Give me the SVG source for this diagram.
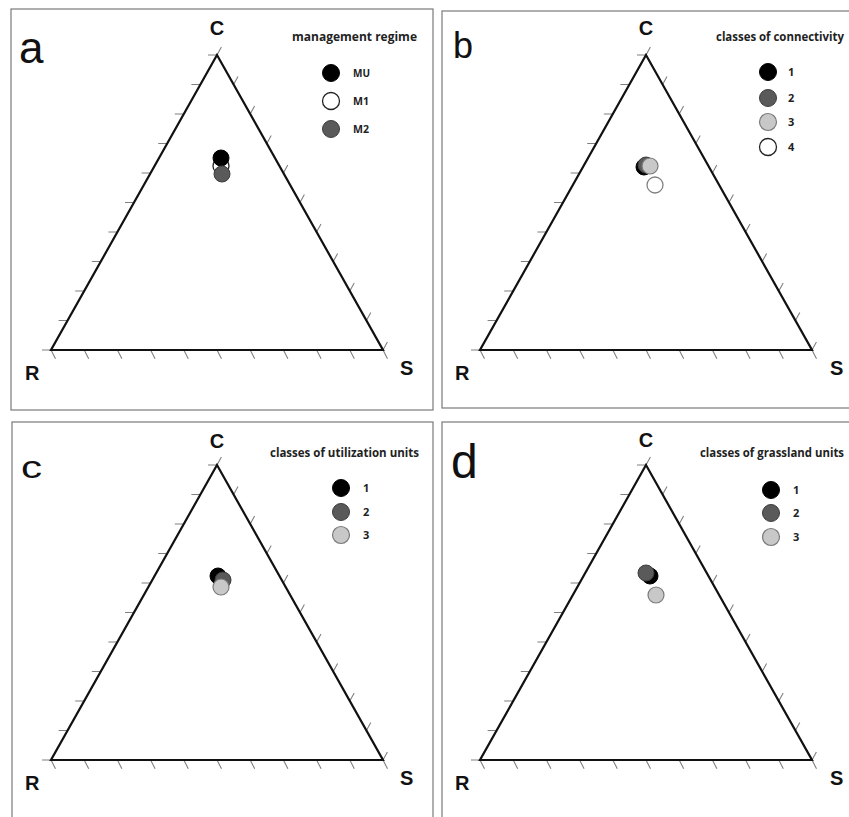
<svg xmlns="http://www.w3.org/2000/svg" xmlns:xlink="http://www.w3.org/1999/xlink" width="849" height="817" viewBox="0 0 849 817">
<style>
.frame{fill:none;stroke:#7a7a7a;stroke-width:1.2}
.tri{fill:none;stroke:#111;stroke-width:2.2;stroke-linejoin:miter}
.tick{fill:none;stroke:#808080;stroke-width:1.1}
.ax{font-family:"Liberation Sans",Arial,sans-serif;font-weight:bold;font-size:20px;fill:#111}
.pl{font-family:"Liberation Sans",Arial,sans-serif;font-weight:normal;fill:#111}
.lt{font-family:"Open Sans","Liberation Sans",sans-serif;font-weight:bold;font-size:12px;fill:#222}
.ll{font-family:"Open Sans","Liberation Sans",sans-serif;font-weight:bold;font-size:11px;fill:#222}
.k{fill:#000;stroke:#000;stroke-width:1}
.dg{fill:#5a5a5a;stroke:#3c3c3c;stroke-width:1}
.lg{fill:#c8c8c8;stroke:#7a7a7a;stroke-width:1.2}
.wh{fill:#fff;stroke:#222;stroke-width:1.3}
.wg{fill:#fff;stroke:#808080;stroke-width:1.3}
</style>
<defs>
<g id="ternary">
<path class="tick" d="M51 350 l4.5 8.7 M84.2 350 l4.5 8.7 M117.4 350 l4.5 8.7 M150.6 350 l4.5 8.7 M183.8 350 l4.5 8.7 M217 350 l4.5 8.7 M250.2 350 l4.5 8.7 M283.4 350 l4.5 8.7 M316.6 350 l4.5 8.7 M349.8 350 l4.5 8.7 M383 350 l4.5 8.7"/>
<path class="tick" d="M51 350 h-9 M67.6 320.5 h-9 M84.2 291 h-9 M100.8 261.5 h-9 M117.4 232 h-9 M134 202.5 h-9 M150.6 173 h-9 M167.2 143.5 h-9 M183.8 114 h-9 M200.4 84.5 h-9 M217 55 h-9"/>
<path class="tick" d="M217 55 l4.4 -7.9 M233.6 84.5 l4.4 -7.9 M250.2 114 l4.4 -7.9 M266.8 143.5 l4.4 -7.9 M283.4 173 l4.4 -7.9 M300 202.5 l4.4 -7.9 M316.6 232 l4.4 -7.9 M333.2 261.5 l4.4 -7.9 M349.8 291 l4.4 -7.9 M366.4 320.5 l4.4 -7.9 M383 350 l4.4 -7.9"/>
<polygon class="tri" points="217,55 383,350 51,350"/>
</g>
</defs>

<g id="panel-a">
<rect class="frame" x="11" y="9" width="422" height="401"/>
<use xlink:href="#ternary"/>
<text class="pl" x="19" y="63" font-size="44">a</text>
<text class="ax" x="217" y="35" text-anchor="middle" font-size="19">C</text>
<text class="ax" x="25" y="380">R</text>
<text class="ax" x="400" y="375">S</text>
<text class="lt" x="292" y="41" textLength="125" lengthAdjust="spacingAndGlyphs">management regime</text>
<circle class="k" cx="331" cy="73" r="8.5"/>
<circle class="wh" cx="331" cy="101" r="8.5"/>
<circle class="dg" cx="331" cy="129" r="8.5"/>
<text class="ll" x="353" y="77" textLength="17" lengthAdjust="spacingAndGlyphs">MU</text>
<text class="ll" x="353" y="105" textLength="16" lengthAdjust="spacingAndGlyphs">M1</text>
<text class="ll" x="353" y="133" textLength="16" lengthAdjust="spacingAndGlyphs">M2</text>
<circle class="wh" cx="221" cy="166" r="8"/>
<circle class="k" cx="221" cy="158" r="8"/>
<circle class="dg" cx="222" cy="174" r="8"/>
</g>

<g id="panel-b">
<rect class="frame" x="442" y="11" width="420" height="397"/>
<use xlink:href="#ternary" transform="translate(429,0)"/>
<text class="pl" x="453" y="58" font-size="36">b</text>
<text class="ax" x="646" y="35" text-anchor="middle" font-size="19">C</text>
<text class="ax" x="455" y="380">R</text>
<text class="ax" x="830" y="375">S</text>
<text class="lt" x="716" y="41" textLength="128" lengthAdjust="spacingAndGlyphs">classes of connectivity</text>
<circle class="k" cx="768" cy="72" r="8.5"/>
<circle class="dg" cx="768" cy="98" r="8.5"/>
<circle class="lg" cx="768" cy="122" r="8.5"/>
<circle class="wh" cx="768" cy="147" r="8.5"/>
<text class="ll" x="788" y="76">1</text>
<text class="ll" x="788" y="102">2</text>
<text class="ll" x="788" y="126">3</text>
<text class="ll" x="788" y="151">4</text>
<circle class="k" cx="644" cy="167" r="8"/>
<circle class="dg" cx="646" cy="165" r="8"/>
<circle class="lg" cx="650" cy="166" r="8"/>
<circle class="wg" cx="655" cy="185" r="8"/>
</g>

<g id="panel-c">
<rect class="frame" x="12" y="422" width="421" height="420"/>
<use xlink:href="#ternary" transform="translate(0,410)"/>
<text class="pl" x="21" y="478" font-size="32" textLength="21" lengthAdjust="spacingAndGlyphs">c</text>
<text class="ax" x="217" y="448" text-anchor="middle" font-size="19">C</text>
<text class="ax" x="25" y="790">R</text>
<text class="ax" x="400" y="785">S</text>
<text class="lt" x="270" y="457" textLength="149" lengthAdjust="spacingAndGlyphs">classes of utilization units</text>
<circle class="k" cx="341" cy="488" r="8.5"/>
<circle class="dg" cx="341" cy="512" r="8.5"/>
<circle class="lg" cx="341" cy="535" r="8.5"/>
<text class="ll" x="363" y="492">1</text>
<text class="ll" x="363" y="516">2</text>
<text class="ll" x="363" y="539">3</text>
<circle class="k" cx="218" cy="576" r="8"/>
<circle class="dg" cx="223" cy="580" r="8"/>
<circle class="lg" cx="221" cy="587" r="8"/>
</g>

<g id="panel-d">
<rect class="frame" x="442" y="422" width="420" height="420"/>
<use xlink:href="#ternary" transform="translate(429,410)"/>
<text class="pl" x="451" y="478" font-size="48">d</text>
<text class="ax" x="646" y="447" text-anchor="middle" font-size="19">C</text>
<text class="ax" x="455" y="790">R</text>
<text class="ax" x="830" y="785">S</text>
<text class="lt" x="700" y="457" font-size="10.5" textLength="144" lengthAdjust="spacingAndGlyphs">classes of grassland units</text>
<circle class="k" cx="771" cy="490" r="8.5"/>
<circle class="dg" cx="771" cy="513" r="8.5"/>
<circle class="lg" cx="771" cy="537" r="8.5"/>
<text class="ll" x="793" y="494">1</text>
<text class="ll" x="793" y="517">2</text>
<text class="ll" x="793" y="541">3</text>
<circle class="k" cx="650" cy="576" r="8"/>
<circle class="dg" cx="646" cy="573" r="8"/>
<circle class="lg" cx="656" cy="595" r="8"/>
</g>
</svg>
